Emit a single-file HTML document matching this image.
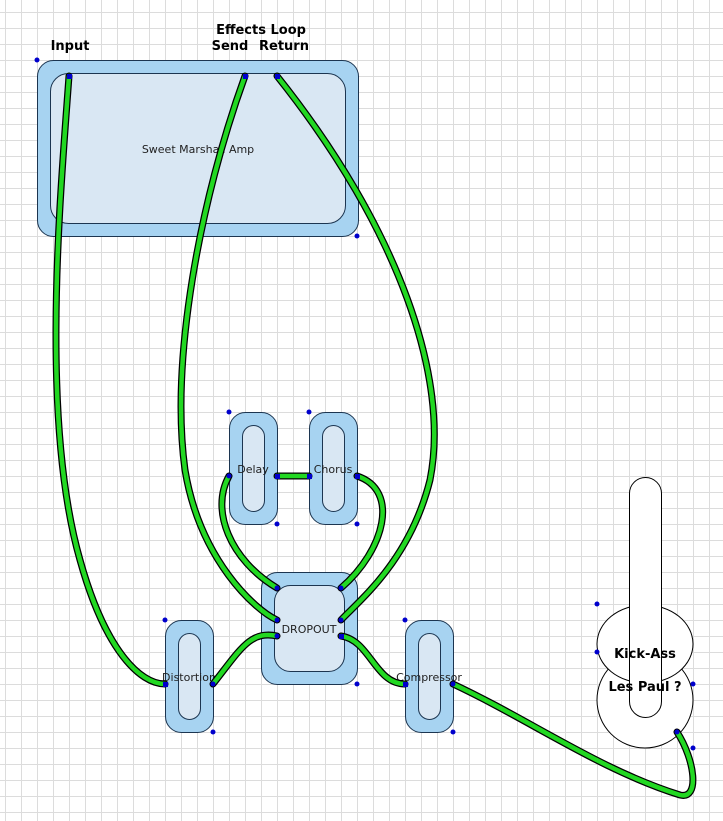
<!DOCTYPE html>
<html><head><meta charset="utf-8"><style>
html,body{margin:0;padding:0;background:#fff;}
svg{display:block;font-family:"DejaVu Sans","Liberation Sans",sans-serif;}
</style></head><body>
<svg width="723" height="821" viewBox="0 0 723 821" xmlns="http://www.w3.org/2000/svg">
<defs>
<pattern id="g" x="5" y="12" width="16" height="16" patternUnits="userSpaceOnUse">
<path d="M0 0.5H16M0.5 0V16" stroke="#dcdcdc" stroke-width="1" fill="none"/>
</pattern>
</defs>
<rect width="723" height="821" fill="url(#g)"/>
<g stroke="#1c3550" stroke-width="1">
<rect x="37.5" y="60.5" width="321" height="176" rx="16" fill="#a7d3f1"/>
<rect x="50.5" y="73.5" width="295" height="150" rx="18" fill="#d9e7f3"/>
<rect x="229.5" y="412.5" width="48" height="112" rx="16" fill="#a7d3f1"/>
<rect x="242.5" y="425.5" width="22" height="86" rx="11" fill="#d9e7f3"/>
<rect x="309.5" y="412.5" width="48" height="112" rx="16" fill="#a7d3f1"/>
<rect x="322.5" y="425.5" width="22" height="86" rx="11" fill="#d9e7f3"/>
<rect x="261.5" y="572.5" width="96" height="112" rx="16" fill="#a7d3f1"/>
<rect x="274.5" y="585.5" width="70" height="86" rx="16" fill="#d9e7f3"/>
<rect x="165.5" y="620.5" width="48" height="112" rx="16" fill="#a7d3f1"/>
<rect x="178.5" y="633.5" width="22" height="86" rx="11" fill="#d9e7f3"/>
<rect x="405.5" y="620.5" width="48" height="112" rx="16" fill="#a7d3f1"/>
<rect x="418.5" y="633.5" width="22" height="86" rx="11" fill="#d9e7f3"/>
</g>
<g stroke="#000" stroke-width="1" fill="#fff">
<circle cx="645" cy="700" r="48"/>
<ellipse cx="645" cy="644" rx="48" ry="39"/>
<rect x="629.5" y="477.5" width="32" height="240" rx="16"/>
</g>
<g font-size="11" fill="#222" text-anchor="middle">
<text x="198" y="153">Sweet Marshall Amp</text>
<text x="253" y="473">Delay</text>
<text x="333" y="473">Chorus</text>
<text x="309" y="633">DROPOUT</text>
<text x="189" y="681">Distortion</text>
<text x="429" y="681">Compressor</text>
</g>
<g font-size="13" font-weight="bold" fill="#000" text-anchor="middle">
<text x="70" y="50">Input</text>
<text x="261" y="34">Effects Loop</text>
<text x="230" y="50">Send</text>
<text x="284" y="50">Return</text>
<text x="645" y="658">Kick-Ass</text>
<text x="645" y="691">Les Paul ?</text>
</g>
<g fill="none" stroke-linecap="round">
<g stroke="#000" stroke-width="7">
<path d="M69 76 C60 200 40 420 80 560 C105 650 140 684 165 684"/>
<path d="M245 76 C200 200 170 360 185 470 C200 560 255 610 277 620"/>
<path d="M277 76 C400 230 450 380 430 480 C410 560 360 600 341 620"/>
<path d="M229 476 C210 510 230 560 277 588"/>
<path d="M277 476 H309"/>
<path d="M357 476 C400 490 385 550 341 588"/>
<path d="M213 684 C240 650 250 630 277 636"/>
<path d="M341 636 C370 640 375 684 405 684"/>
<path d="M453 684 C530 720 600 770 680 795 C700 800 695 760 677 732"/>
</g>
<g stroke="#22d822" stroke-width="4.5">
<path d="M69 76 C60 200 40 420 80 560 C105 650 140 684 165 684"/>
<path d="M245 76 C200 200 170 360 185 470 C200 560 255 610 277 620"/>
<path d="M277 76 C400 230 450 380 430 480 C410 560 360 600 341 620"/>
<path d="M229 476 C210 510 230 560 277 588"/>
<path d="M277 476 H309"/>
<path d="M357 476 C400 490 385 550 341 588"/>
<path d="M213 684 C240 650 250 630 277 636"/>
<path d="M341 636 C370 640 375 684 405 684"/>
<path d="M453 684 C530 720 600 770 680 795 C700 800 695 760 677 732"/>
</g>
</g>
<g fill="#0000cc">
<circle cx="37" cy="60" r="2.5"/><circle cx="357" cy="236" r="2.5"/>
<rect x="67" y="74" width="5" height="5"/><rect x="243" y="74" width="5" height="5"/><rect x="275" y="74" width="5" height="5"/>
<circle cx="229" cy="412" r="2.5"/><circle cx="277" cy="524" r="2.5"/>
<circle cx="309" cy="412" r="2.5"/><circle cx="357" cy="524" r="2.5"/>
<circle cx="229" cy="476" r="2.5"/><rect x="275" y="474" width="5" height="5"/><rect x="307" y="474" width="5" height="5"/><rect x="355" y="474" width="5" height="5"/>
<circle cx="277" cy="588" r="2.5"/><circle cx="341" cy="588" r="2.5"/><circle cx="277" cy="620" r="2.5"/><circle cx="341" cy="620" r="2.5"/><circle cx="277" cy="636" r="2.5"/><rect x="339" y="634" width="5" height="5"/>
<circle cx="357" cy="684" r="2.5"/>
<circle cx="165" cy="620" r="2.5"/><circle cx="213" cy="732" r="2.5"/><rect x="163" y="682" width="5" height="5"/><circle cx="213" cy="684" r="2.5"/>
<circle cx="405" cy="620" r="2.5"/><circle cx="453" cy="732" r="2.5"/><rect x="403" y="682" width="5" height="5"/><circle cx="453" cy="684" r="2.5"/>
<circle cx="597" cy="604" r="2.5"/><circle cx="597" cy="652" r="2.5"/><circle cx="693" cy="684" r="2.5"/><circle cx="693" cy="748" r="2.5"/><circle cx="677" cy="732" r="2.5"/>
</g>
</svg>
</body></html>
